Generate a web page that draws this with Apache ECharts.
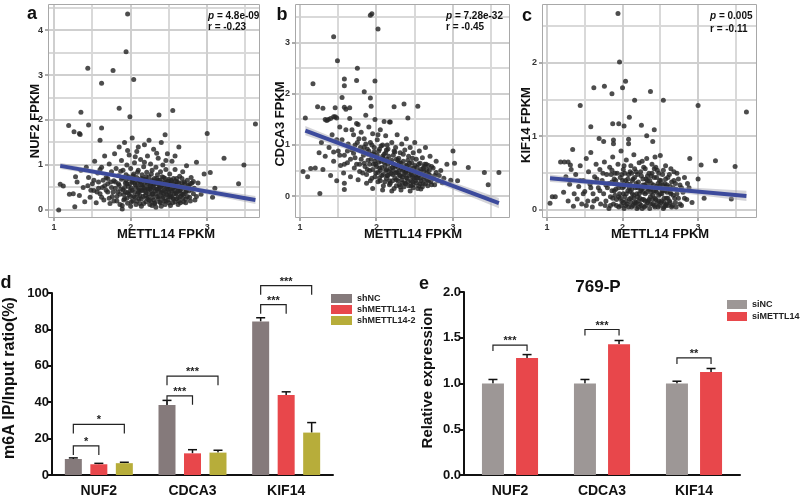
<!DOCTYPE html>
<html><head><meta charset="utf-8">
<script src="https://cdn.jsdelivr.net/npm/echarts@6/dist/echarts.min.js"></script>
<style>html,body{margin:0;padding:0;background:#fff}#c{width:800px;height:503px}</style>
</head><body><div id="c"></div>
<script>
// ---------------- DATA ----------------
const ptsA = [
[1.96,4.36],[1.94,3.52],[1.44,3.15],[1.77,3.10],[2.04,2.90],[1.62,2.82],[1.85,2.26],[1.35,2.17],[2.55,2.21],[2.37,2.11],[1.99,2.07],[1.19,1.88],[1.45,1.89],[1.62,1.82],[3.63,1.91],[3.00,1.70],[1.26,1.74],[1.33,1.70],[1.34,1.68],[2.45,1.67],[3.22,1.15],[2.86,1.06],[3.48,1.00],[3.04,0.83],[3.41,0.58],[1.08,0.57],[1.12,0.53],[1.06,0.0],[1.27,0.07],[1.89,0.02],[3.07,0.28],[2.82,0.63],
[1.20,0.35],[1.25,0.36],[1.28,0.74],[1.30,0.62],[1.33,0.32],[1.35,0.88],[1.38,0.50],[1.40,0.18],[1.42,0.95],[1.45,0.72],[1.47,0.28],[1.50,0.58],[1.52,0.43],[1.53,1.08],[1.55,0.16],[1.57,0.82],[1.58,0.62],[1.60,0.36],[1.60,1.55],[1.62,0.95],[1.63,0.50],[1.65,0.22],[1.66,1.20],[1.68,0.72],[1.70,0.40],[1.70,0.58],[1.72,1.02],[1.73,0.14],[1.75,0.85],[1.76,0.30],[1.78,0.65],[1.79,1.25],[1.80,0.48],[1.81,0.92],[1.82,0.20],[1.84,0.76],[1.85,1.40],[1.85,0.55],[1.86,0.35],[1.88,1.10],[1.88,0.68],[1.89,0.10],[1.90,0.45],[1.90,0.88],[1.92,1.50],[1.92,0.25],[1.93,0.60],[1.94,0.78],[1.95,1.00],[1.96,0.38],[1.96,0.15],[1.97,0.52],[1.98,1.22],[1.98,0.70],[2.00,0.30],[2.00,0.92],[2.01,0.48],[2.02,1.60],[2.02,0.62],[2.03,0.20],[2.04,0.80],[2.05,1.05],[2.05,0.40],[2.06,0.56],[2.07,0.12],[2.08,0.72],[2.08,1.30],[2.09,0.35],[2.10,0.88],[2.10,0.50],[2.11,0.25],[2.12,0.64],[2.13,1.12],[2.13,0.42],[2.14,0.08],[2.15,0.78],[2.15,0.56],[2.16,0.30],[2.17,0.96],[2.18,0.48],[2.18,1.45],[2.19,0.68],[2.20,0.18],[2.20,0.38],[2.21,0.84],[2.22,0.58],[2.22,1.20],[2.23,0.28],[2.24,0.74],[2.25,0.46],[2.25,0.12],[2.26,1.02],[2.27,0.62],[2.28,0.35],[2.28,0.88],[2.29,0.52],[2.30,0.22],[2.30,1.35],[2.31,0.70],[2.32,0.42],[2.33,0.95],[2.33,0.06],[2.34,0.58],[2.35,0.30],[2.35,0.78],[2.36,1.15],[2.37,0.48],[2.38,0.18],[2.38,0.66],[2.39,0.85],[2.40,0.38],[2.40,1.50],[2.41,0.55],[2.42,0.26],[2.42,1.00],[2.43,0.72],[2.44,0.44],[2.45,0.12],[2.45,0.62],[2.46,0.90],[2.47,0.34],[2.48,0.52],[2.48,1.25],[2.49,0.22],[2.50,0.68],[2.50,0.40],[2.51,0.80],[2.52,0.58],[2.53,0.30],[2.54,1.08],[2.55,0.48],[2.55,0.16],[2.56,0.70],[2.57,0.36],[2.58,0.90],[2.59,0.55],[2.60,0.25],[2.61,0.62],[2.62,0.42],[2.63,1.40],[2.64,0.75],[2.65,0.30],[2.66,0.52],[2.68,0.85],[2.69,0.18],[2.70,0.62],[2.72,0.40],[2.73,0.98],[2.75,0.55],[2.77,0.28],[2.79,0.72],[2.80,0.45],[2.84,0.22],[2.88,0.60],[2.92,0.35],[2.96,0.80],[3.10,0.48],
[1.95,0.58],[1.99,0.42],[2.03,0.66],[2.06,0.28],[2.09,0.60],[2.11,0.44],[2.14,0.70],[2.16,0.50],[2.19,0.32],[2.21,0.64],[2.23,0.46],[2.24,0.22],[2.26,0.54],[2.27,0.80],[2.29,0.36],[2.31,0.58],[2.32,0.16],[2.34,0.46],[2.36,0.66],[2.37,0.30],[2.39,0.52],[2.41,0.74],[2.43,0.36],[2.44,0.58],[2.46,0.20],[2.47,0.48],[2.49,0.64],[2.51,0.30],[2.52,0.46],[2.54,0.62],[2.56,0.24],[2.57,0.52],[2.59,0.36],[2.60,0.70],[2.62,0.50],[2.63,0.20],[2.65,0.44],[2.67,0.60],[2.68,0.34],[2.70,0.50],[2.72,0.24],[2.74,0.66],[2.76,0.42],[2.78,0.58],[2.82,0.36],[1.80,0.62],[1.83,0.40],[1.87,0.86],[1.91,0.34],[1.94,0.66],[1.75,0.50],[1.72,0.26],[1.68,0.44],[1.64,0.66],[1.60,0.90],[1.56,0.40],[2.00,0.08],[2.12,0.14],[2.28,0.10],[2.40,0.08],[2.52,0.10],[2.62,0.12],[2.18,1.06],[2.06,1.18],[2.34,1.26],[2.46,1.10],[2.58,1.20],[1.96,1.32],[2.24,1.55],[2.10,1.40],
[1.82,0.30],[1.84,0.58],[1.86,0.12],[1.87,0.46],[1.89,0.72],[1.91,0.22],[1.92,0.50],[1.93,0.40],[1.95,0.26],[1.97,0.74],[1.98,0.34],[1.99,0.58],[2.01,0.18],[2.02,0.44],[2.03,0.76],[2.04,0.30],[2.05,0.60],[2.07,0.50],[2.08,0.20],[2.09,0.84],[2.10,0.40],[2.11,0.66],[2.12,0.32],[2.13,0.56],[2.14,0.24],[2.15,0.44],[2.16,0.68],[2.17,0.14],[2.18,0.58],[2.19,0.42],[2.20,0.74],[2.21,0.26],[2.22,0.48],[2.23,0.64],[2.24,0.36],[2.25,0.56],[2.26,0.20],[2.27,0.44],[2.28,0.66],[2.29,0.28],[2.30,0.50],[2.31,0.14],[2.32,0.62],[2.33,0.36],[2.34,0.70],[2.35,0.46],[2.36,0.24],[2.37,0.56],[2.38,0.40],[2.39,0.16],[2.40,0.62],[2.41,0.44],[2.42,0.30],[2.43,0.54],[2.44,0.20],[2.45,0.70],[2.46,0.40],[2.47,0.60],[2.48,0.30],[2.49,0.46],[2.50,0.16],[2.51,0.56],[2.52,0.34],[2.53,0.66],[2.54,0.42],[2.55,0.26],[2.56,0.58],[2.57,0.44],[2.58,0.18],[2.59,0.64],[2.60,0.38],[2.61,0.50],[2.62,0.28],[2.63,0.60],[2.64,0.44],[2.65,0.16],[2.66,0.36],[2.67,0.70],[2.68,0.26],[2.69,0.48],[2.70,0.36],[2.71,0.58],[2.72,0.16],[2.73,0.44],[2.74,0.30],[2.76,0.52],[2.78,0.20],[2.80,0.60],[2.83,0.48],[2.86,0.30],[1.70,0.70],[1.74,0.62],[1.77,0.40],[1.78,0.20],[1.66,0.54],[1.62,0.28],[1.58,0.48],[1.52,0.66],[1.48,0.44],[1.44,0.54]
];
const ptsB = [
[1.94,3.57],[1.92,3.54],[2.02,3.27],[1.44,3.12],[1.49,2.65],[1.75,2.50],[1.58,2.29],[1.58,2.16],[1.74,2.26],[1.98,2.25],[1.17,2.20],[1.84,2.04],[1.55,1.93],[1.92,1.92],[1.23,1.75],[1.30,1.72],[1.46,1.73],[1.58,1.74],[1.65,1.73],[1.93,1.76],[2.23,1.75],[2.36,1.80],[2.54,1.76],[1.07,1.53],[2.41,1.53],[1.37,1.50],[1.40,1.52],[1.44,1.55],[1.48,1.53],[1.33,1.50],
[3.00,0.88],[3.02,0.64],[3.20,0.56],[3.41,0.46],[3.60,0.46],[3.46,0.22],[2.97,0.31],[3.06,0.30],[1.04,0.48],[1.10,0.38],[1.26,0.05],[1.58,0.25],[1.58,0.13],[1.14,0.54],
[1.20,0.55],[1.25,0.85],[1.28,1.05],[1.30,0.52],[1.33,0.78],[1.35,1.48],[1.38,0.95],[1.40,0.40],[1.42,1.20],[1.44,0.68],[1.46,1.55],[1.48,0.30],[1.50,0.88],[1.52,1.35],[1.53,0.60],[1.55,1.10],[1.57,0.45],[1.58,0.80],[1.60,1.30],[1.62,0.65],[1.63,1.02],[1.65,1.52],[1.66,0.38],[1.68,0.90],[1.70,1.20],[1.71,0.55],[1.72,0.75],[1.74,1.42],[1.75,1.05],[1.76,0.32],[1.78,0.62],[1.79,0.95],[1.80,1.25],[1.82,0.45],[1.83,0.80],[1.84,1.12],[1.85,0.58],[1.86,1.58],[1.87,0.25],[1.88,0.92],[1.89,0.70],[1.90,1.35],[1.91,0.50],[1.92,1.05],[1.93,0.82],[1.94,0.35],[1.95,1.22],[1.96,0.62],[1.97,0.95],[1.98,1.50],[1.99,0.45],[2.00,0.75],[2.01,1.10],[2.02,0.28],[2.03,0.88],[2.04,0.55],[2.05,1.30],[2.06,0.68],[2.07,0.40],[2.08,1.00],[2.09,0.20],[2.10,0.82],[2.11,0.60],[2.12,1.18],[2.13,0.35],[2.14,0.72],[2.15,0.92],[2.16,0.48],[2.17,1.45],[2.18,0.25],[2.19,0.65],[2.20,1.05],[2.21,0.42],[2.22,0.80],[2.23,0.15],[2.24,0.58],[2.25,0.95],[2.26,0.32],[2.27,1.20],[2.28,0.70],[2.29,0.48],[2.30,0.22],[2.31,0.85],[2.32,0.55],[2.33,1.02],[2.34,0.38],[2.35,0.68],[2.36,0.18],[2.37,0.90],[2.38,0.45],[2.39,1.12],[2.40,0.60],[2.41,0.28],[2.42,0.78],[2.43,0.50],[2.44,0.95],[2.45,0.20],[2.46,0.65],[2.47,0.38],[2.48,0.85],[2.49,0.55],[2.50,1.05],[2.51,0.30],[2.52,0.72],[2.53,0.45],[2.54,0.15],[2.55,0.62],[2.56,0.88],[2.57,0.35],[2.58,0.52],[2.60,0.75],[2.61,0.25],[2.62,0.48],[2.64,0.95],[2.65,0.62],[2.66,0.32],[2.68,0.42],[2.70,0.78],[2.72,0.22],[2.74,0.55],[2.76,0.40],[2.78,0.68],[2.80,0.30],[2.84,0.50],[2.88,0.35],[2.92,0.62],
[1.95,0.15],[2.08,0.12],[2.20,0.10],[2.32,0.12],[2.44,0.10],[2.58,0.14],[2.05,0.50],[2.15,0.40],[2.25,0.45],[2.35,0.52],[2.45,0.42],[2.12,0.85],[2.22,0.62],[2.30,0.65],[2.40,0.35],[2.50,0.48],[1.98,0.68],[2.06,0.98],[1.90,0.88],[2.28,0.30],[2.38,0.24],[2.48,0.22],[2.55,0.40],[2.62,0.58],[2.68,0.60],[1.80,0.72],[1.72,1.00],[1.68,1.30],[1.94,1.00],[2.02,1.20],[2.10,1.46],[2.18,1.45],[1.76,1.40],[1.60,1.70],
[2.00,0.58],[2.04,0.36],[2.09,0.74],[2.13,0.52],[2.17,0.30],[2.21,0.56],[2.26,0.72],[2.31,0.40],[2.34,0.26],[2.39,0.48],[2.43,0.64],[2.47,0.28],[2.52,0.36],[2.57,0.24],[2.63,0.38],[1.88,0.52],[1.84,0.96],[1.96,0.82],[2.14,1.00],[2.24,0.86],
[1.82,0.88],[1.84,0.64],[1.86,1.02],[1.87,0.42],[1.89,0.82],[1.91,0.62],[1.92,0.30],[1.93,0.72],[1.95,0.52],[1.97,0.86],[1.98,0.38],[1.99,0.62],[2.01,0.80],[2.02,0.46],[2.03,0.66],[2.04,0.92],[2.05,0.30],[2.07,0.56],[2.08,0.78],[2.09,0.42],[2.10,0.66],[2.11,0.28],[2.12,0.50],[2.13,0.90],[2.14,0.40],[2.15,0.62],[2.16,0.78],[2.17,0.22],[2.18,0.54],[2.19,0.44],[2.20,0.70],[2.21,0.30],[2.22,0.50],[2.23,0.88],[2.24,0.36],[2.25,0.60],[2.26,0.20],[2.27,0.46],[2.28,0.56],[2.29,0.74],[2.30,0.40],[2.31,0.18],[2.32,0.64],[2.33,0.32],[2.34,0.50],[2.35,0.82],[2.36,0.42],[2.37,0.26],[2.38,0.60],[2.39,0.36],[2.40,0.50],[2.41,0.70],[2.42,0.20],[2.43,0.40],[2.44,0.56],[2.45,0.30],[2.46,0.46],[2.47,0.74],[2.48,0.16],[2.49,0.36],[2.50,0.60],[2.51,0.42],[2.52,0.26],[2.53,0.56],[2.54,0.36],[2.55,0.20],[2.56,0.48],[2.57,0.64],[2.58,0.30],[2.59,0.42],[2.60,0.18],[2.61,0.54],[2.62,0.34],[2.63,0.62],[2.64,0.24],[2.65,0.44],[2.66,0.52],[2.67,0.20],[2.68,0.30],[2.69,0.50],[2.70,0.40],[2.71,0.28],[2.72,0.58],[2.74,0.34],[2.76,0.22],[2.78,0.46],[2.82,0.40],[2.86,0.26],[1.70,0.84],[1.74,0.62],[1.77,1.12],[1.78,0.48],[1.66,0.72],[1.62,0.88],[1.58,0.62],[1.52,0.80],[1.48,1.10],[1.44,0.86]
];
const ptsC = [
[1.94,2.67],[1.96,2.01],[2.04,1.75],[1.62,1.66],[1.76,1.68],[2.00,1.66],[1.86,1.58],[2.37,1.61],[2.16,1.49],[2.54,1.49],[1.44,1.42],[3.00,1.42],[3.64,1.33],[2.09,1.26],[1.58,1.13],[1.87,1.17],[1.95,1.17],[2.02,1.14],[2.25,1.15],[2.42,1.09],[2.32,1.01],[1.69,0.97],[1.75,0.93],[1.88,0.95],[1.88,0.90],[2.08,0.96],[2.08,0.90],[2.40,0.93],[1.34,0.82],[2.89,0.70],[3.23,0.67],[3.04,0.61],[3.49,0.59],[3.00,0.42],[3.08,0.16],[3.44,0.15],[1.04,0.09],[1.07,0.18],[1.11,0.18],
[1.18,0.65],[1.23,0.65],[1.28,0.65],[1.31,0.61],[1.22,0.24],[1.25,0.45],[1.28,0.12],[1.30,0.35],[1.32,0.55],[1.35,0.05],[1.36,0.22],[1.38,0.48],[1.40,0.15],[1.42,0.32],[1.44,0.60],[1.46,0.08],[1.48,0.40],[1.50,0.25],[1.52,0.70],[1.54,0.12],[1.55,0.52],[1.57,0.35],[1.58,0.78],[1.60,0.04],[1.61,0.22],[1.63,0.45],[1.65,0.62],[1.66,0.15],[1.68,0.30],[1.70,0.55],[1.71,0.08],[1.73,0.40],[1.75,0.22],[1.76,0.65],[1.78,0.12],[1.79,0.48],[1.80,0.30],[1.82,0.02],[1.83,0.58],[1.84,0.18],[1.86,0.38],[1.87,0.72],[1.88,0.08],[1.89,0.26],[1.90,0.50],[1.92,0.14],[1.93,0.35],[1.94,0.62],[1.95,0.04],[1.96,0.22],[1.97,0.44],[1.98,0.80],[1.99,0.12],[2.00,0.30],[2.01,0.55],[2.02,0.02],[2.03,0.18],[2.04,0.40],[2.05,0.68],[2.06,0.08],[2.07,0.26],[2.08,0.48],[2.09,0.15],[2.10,0.35],[2.11,0.60],[2.12,0.04],[2.13,0.22],[2.14,0.42],[2.15,0.75],[2.16,0.10],[2.17,0.30],[2.18,0.52],[2.19,0.02],[2.20,0.18],[2.21,0.38],[2.22,0.64],[2.23,0.08],[2.24,0.26],[2.25,0.46],[2.26,0.14],[2.27,0.34],[2.28,0.58],[2.29,0.04],[2.30,0.22],[2.31,0.42],[2.32,0.70],[2.33,0.10],[2.34,0.28],[2.35,0.50],[2.36,0.02],[2.37,0.18],[2.38,0.36],[2.39,0.62],[2.40,0.08],[2.41,0.26],[2.42,0.44],[2.43,0.72],[2.44,0.14],[2.45,0.32],[2.46,0.54],[2.47,0.04],[2.48,0.20],[2.49,0.40],[2.50,0.74],[2.51,0.10],[2.52,0.28],[2.53,0.48],[2.54,0.02],[2.55,0.16],[2.56,0.36],[2.57,0.60],[2.58,0.08],[2.59,0.24],[2.60,0.44],[2.62,0.12],[2.63,0.32],[2.64,0.56],[2.65,0.04],[2.67,0.20],[2.68,0.40],[2.70,0.10],[2.71,0.28],[2.72,0.50],[2.74,0.16],[2.76,0.34],[2.78,0.06],[2.80,0.24],[2.82,0.44],[2.85,0.14],[2.88,0.30],[2.92,0.10],
[2.05,0.12],[2.15,0.20],[2.25,0.06],[2.35,0.14],[2.45,0.24],[2.55,0.10],[2.00,0.40],[2.10,0.25],[2.20,0.30],[2.30,0.12],[2.40,0.20],[2.50,0.34],[2.60,0.16],[1.95,0.30],[2.12,0.50],[2.22,0.22],[2.32,0.36],[2.42,0.06],[2.52,0.22],[1.85,0.48],[1.90,0.20],[2.18,0.10],[2.28,0.30],[2.38,0.46],[2.48,0.12],[2.58,0.32],[2.02,0.60],[2.26,0.66],[2.44,0.58],
[2.01,0.22],[2.06,0.36],[2.11,0.16],[2.16,0.44],[2.21,0.12],[2.27,0.24],[2.33,0.40],[2.37,0.28],[2.43,0.16],[2.47,0.36],[2.53,0.26],[2.57,0.06],[2.63,0.24],[1.97,0.16],[1.91,0.40],[1.86,0.26],
[1.82,0.36],[1.84,0.06],[1.86,0.54],[1.87,0.16],[1.89,0.42],[1.91,0.28],[1.92,0.06],[1.93,0.50],[1.95,0.18],[1.97,0.34],[1.98,0.06],[1.99,0.48],[2.01,0.10],[2.02,0.32],[2.03,0.50],[2.04,0.06],[2.05,0.22],[2.07,0.42],[2.08,0.04],[2.09,0.30],[2.10,0.52],[2.11,0.10],[2.12,0.28],[2.13,0.40],[2.14,0.06],[2.15,0.16],[2.16,0.56],[2.17,0.08],[2.18,0.36],[2.19,0.22],[2.20,0.48],[2.21,0.04],[2.22,0.32],[2.23,0.16],[2.24,0.52],[2.25,0.28],[2.26,0.02],[2.27,0.42],[2.28,0.14],[2.29,0.34],[2.30,0.56],[2.31,0.06],[2.32,0.24],[2.33,0.46],[2.34,0.12],[2.35,0.30],[2.36,0.40],[2.37,0.08],[2.38,0.24],[2.39,0.50],[2.40,0.14],[2.41,0.34],[2.42,0.56],[2.43,0.04],[2.44,0.26],[2.45,0.44],[2.46,0.10],[2.47,0.30],[2.48,0.50],[2.49,0.06],[2.50,0.22],[2.51,0.40],[2.52,0.12],[2.53,0.34],[2.54,0.54],[2.55,0.04],[2.56,0.26],[2.57,0.42],[2.58,0.16],[2.59,0.34],[2.60,0.06],[2.61,0.28],[2.62,0.48],[2.63,0.10],[2.64,0.22],[2.65,0.38],[2.66,0.06],[2.67,0.30],[2.68,0.52],[2.69,0.16],[2.70,0.36],[2.71,0.04],[2.72,0.22],[2.74,0.42],[2.76,0.08],[2.78,0.30],[2.82,0.16],[2.86,0.36],[1.70,0.26],[1.74,0.50],[1.77,0.06],[1.78,0.34],[1.66,0.42],[1.62,0.12],[1.58,0.30],[1.52,0.06],[1.48,0.22],[1.44,0.40]
];
const fitA = [[1.08,0.98],[3.63,0.22]];
const fitB = [[1.07,1.28],[3.60,-0.14]];
const fitC = [[1.04,0.43],[3.64,0.19]];
const bandA = [[1.08,0.91,1.05],[2.20,0.615,0.675],[3.63,0.13,0.31]];
const bandB = [[1.07,1.19,1.37],[2.20,0.615,0.68],[3.60,-0.24,-0.04]];
const bandC = [[1.04,0.38,0.48],[2.20,0.30,0.345],[3.64,0.12,0.26]];
// tick values (major labelled, minor gridlines only)
const xMajor = [1,2,3];
const xMinor = [1.5,2.5,3.5];
const yMajorA = [0,1,2,3,4], yMinorA = [0.5,1.5,2.5,3.5,4.5];
const yMajorB = [0,1,2,3],   yMinorB = [0.5,1.5,2.5,3.5];
const yMajorC = [0,1,2],     yMinorC = [0.5,1.5,2.5];
const statP = ['4.8e-09','7.28e-32','0.005'];
const statR = ['-0.23','-0.45','-0.11'];
const yNames = ['NUF2 FPKM','CDCA3 FPKM','KIF14 FPKM'];
const xName = 'METTL14 FPKM';

const genes = ['NUF2','CDCA3','KIF14'];
const dGroups = ['shNC','shMETTL14-1','shMETTL14-2'];
const shNCmean = [8.8,38.4,84.4];
const shNCerr = [0.6,2.6,2.0];
const sh1mean = [5.9,11.9,43.9];
const sh1err = [0.5,2.0,1.8];
const sh2mean = [6.5,12.3,23.3];
const sh2err = [0.5,1.3,5.5];
// brackets: [gene index, bar from, bar to, height, label]
const dBrackets = [[0,0,1,16,'*'],[0,0,2,27.8,'*'],[1,0,1,43.5,'***'],[1,0,2,54.3,'***'],[2,0,1,93.6,'***'],[2,0,2,104,'***']];

const eGroups = ['siNC','siMETTL14'];
const siNCmean = [1.0,1.0,1.0];
const siNCerr = [0.044,0.044,0.025];
const siMmean = [1.28,1.43,1.125];
const siMerr = [0.036,0.04,0.039];
const eBrackets = [[0,0,1,1.42,'***'],[1,0,1,1.59,'***'],[2,0,1,1.28,'**']];
const eTitle = '769-P';

// ---------------- STYLE ----------------
const FONT = '"Liberation Sans", Arial, sans-serif';
const dCols = ['#857a7b','#e8474b','#b7ad3a'];
const eCols = ['#9d9796','#e8474b'];
const D_BW = 17, D_GAP = 0.5;
const E_BW = 22, E_GAP = 0.55;

function scatterAxes(gi, xmin, xmax, ymin, ymax, ySplit){
  const lab = {formatter: v => Math.abs(v - Math.round(v)) < 1e-6 ? String(Math.round(v)) : '',
               fontSize: 9, fontWeight: 'bold', color: '#333', fontFamily: FONT};
  return {
    x: {type: 'value', gridIndex: gi, min: xmin, max: xmax, splitNumber: 6,
        axisLine: {show: false}, axisTick: {show: false},
        axisLabel: Object.assign({margin: 5}, lab), splitLine: {show: false}},
    y: {type: 'value', gridIndex: gi, min: ymin, max: ymax, splitNumber: ySplit,
        axisLine: {show: false}, axisTick: {show: false},
        axisLabel: Object.assign({margin: 5}, lab), splitLine: {show: false}}
  };
}
const axA = scatterAxes(0, 0.92, 3.69, -0.18, 4.58, 9);
const axB = scatterAxes(1, 0.935, 3.745, -0.43, 3.76, 8);
const axC = scatterAxes(2, 0.934, 3.78, -0.11, 2.8, 6);

function barAxes(gi, ymax, interval, fmt){
  return {
    x: {type: 'category', gridIndex: gi, data: genes,
        axisLine: {lineStyle: {color: '#111', width: 2}},
        axisTick: {alignWithLabel: true, length: 5, lineStyle: {color: '#111', width: 2}},
        axisLabel: {fontSize: 14, fontWeight: 'bold', color: '#111', fontFamily: FONT, margin: 9}},
    y: {type: 'value', gridIndex: gi, min: 0, max: ymax, interval: interval,
        axisLine: {show: true, lineStyle: {color: '#111', width: 2}},
        axisTick: {show: true, length: 4, lineStyle: {color: '#111', width: 2}},
        axisLabel: {fontSize: 13, fontWeight: 'bold', color: '#111', fontFamily: FONT, margin: 3, formatter: fmt},
        splitLine: {show: false}}
  };
}
const axD = barAxes(3, 100, 20, v => String(v));
const axE = barAxes(4, 2, 0.5, v => v.toFixed(1));

// panel background: gridlines + frame + ticks, drawn through the axes' scales (pixel-aligned 2px lines)
function frameSeries(gi, xMaj, xMin, yMaj, yMin){
  return {type: 'custom', xAxisIndex: gi, yAxisIndex: gi, coordinateSystem: 'cartesian2d', silent: true, z: 1,
    clip: false, data: [[xMaj[0], yMaj[0]]],
    renderItem: function(params, api){
      const cs = params.coordSys;
      const kids = [];
      const vline = (v, col) => { const px = Math.round(api.coord([v, yMaj[0]])[0]);
        kids.push({type: 'rect', shape: {x: px - 1, y: cs.y, width: 2, height: cs.height}, style: {fill: col}}); };
      const hline = (v, col) => { const py = Math.round(api.coord([xMaj[0], v])[1]);
        kids.push({type: 'rect', shape: {x: cs.x, y: py - 1, width: cs.width, height: 2}, style: {fill: col}}); };
      xMin.forEach(v => vline(v, '#d9d9d9'));
      yMin.forEach(v => hline(v, '#d9d9d9'));
      xMaj.forEach(v => vline(v, '#cfcfcf'));
      yMaj.forEach(v => hline(v, '#cfcfcf'));
      xMaj.forEach(v => { const px = Math.round(api.coord([v, yMaj[0]])[0]);
        kids.push({type: 'rect', shape: {x: px - 0.5, y: cs.y + cs.height, width: 1, height: 3}, style: {fill: '#555'}}); });
      yMaj.forEach(v => { const py = Math.round(api.coord([xMaj[0], v])[1]);
        kids.push({type: 'rect', shape: {x: cs.x - 3, y: py - 0.5, width: 3, height: 1}, style: {fill: '#555'}}); });
      kids.push({type: 'rect', shape: {x: cs.x + 0.5, y: cs.y + 0.5, width: cs.width - 1, height: cs.height - 1},
        style: {fill: 'none', stroke: '#a8a8a8', lineWidth: 1}});
      return {type: 'group', children: kids};
    }};
}

function scatterSeries(gi, pts, fit, band, yMaj, yMin){
  return [
    frameSeries(gi, xMajor, xMinor, yMaj, yMin),
    {type: 'scatter', xAxisIndex: gi, yAxisIndex: gi, data: pts, symbolSize: 5,
     itemStyle: {color: '#262626', opacity: 0.82}, silent: true, z: 3},
    {type: 'custom', xAxisIndex: gi, yAxisIndex: gi, coordinateSystem: 'cartesian2d',
     data: band.map(b => [b[0], b[1]]), silent: true, z: 4,
     renderItem: function(params, api){
       if (params.dataIndex !== 0) return null;
       const up = band.map(b => api.coord([b[0], b[2]]));
       const lo = band.map(b => api.coord([b[0], b[1]])).reverse();
       return {type: 'polygon', shape: {points: up.concat(lo)},
               style: {fill: 'rgba(160,160,170,0.45)'}};
     }},
    {type: 'line', xAxisIndex: gi, yAxisIndex: gi, data: fit, showSymbol: false, silent: true, z: 5,
     lineStyle: {color: '#3c4a9c', width: 4}}
  ];
}

function errSeries(gi, means, errs, k, n, bw, gap){
  return {type: 'custom', xAxisIndex: gi, yAxisIndex: gi, coordinateSystem: 'cartesian2d', z: 1,
    encode: {x: 0, y: 1}, silent: true,
    data: means.map((m, i) => [i, m + errs[i]]),
    renderItem: function(params, api){
      const i = params.dataIndex;
      const off = (k - (n - 1) / 2) * bw * (1 + gap);
      const p0 = api.coord([i, means[i]]);
      const p1 = api.coord([i, means[i] + errs[i]]);
      const x = p0[0] + off;
      const st = {stroke: '#111', lineWidth: 1.5};
      return {type: 'group', children: [
        {type: 'line', shape: {x1: x, y1: p0[1], x2: x, y2: p1[1]}, style: st},
        {type: 'line', shape: {x1: x - 4.5, y1: p1[1], x2: x + 4.5, y2: p1[1]}, style: st}
      ]};
    }};
}
function bracketSeries(gi, brs, n, bw, gap, drop, fs){
  return {type: 'custom', xAxisIndex: gi, yAxisIndex: gi, coordinateSystem: 'cartesian2d', clip: false,
    encode: {x: 0, y: 1}, silent: true, z: 5,
    data: brs.map(b => [b[0], b[3]]),
    renderItem: function(params, api){
      const b = brs[params.dataIndex];
      const c = api.coord([b[0], b[3]]);
      const step = bw * (1 + gap);
      const xa = c[0] + (b[1] - (n - 1) / 2) * step;
      const xb = c[0] + (b[2] - (n - 1) / 2) * step;
      const y = c[1];
      const st = {stroke: '#222', lineWidth: 1.2, fill: null};
      return {type: 'group', children: [
        {type: 'polyline', shape: {points: [[xa, y + drop], [xa, y], [xb, y], [xb, y + drop]]}, style: st},
        {type: 'text', style: {text: b[4], x: (xa + xb) / 2, y: y - 4, align: 'center', verticalAlign: 'middle',
          textAlign: 'center', textVerticalAlign: 'middle',
          font: 'bold ' + fs + 'px ' + FONT, fill: '#222'}}
      ]};
    }};
}

const series = []
  .concat(scatterSeries(0, ptsA, fitA, bandA, yMajorA, yMinorA))
  .concat(scatterSeries(1, ptsB, fitB, bandB, yMajorB, yMinorB))
  .concat(scatterSeries(2, ptsC, fitC, bandC, yMajorC, yMinorC));
const dMeans = [shNCmean, sh1mean, sh2mean], dErrs = [shNCerr, sh1err, sh2err];
dGroups.forEach((g, k) => {
  series.push({type: 'bar', name: g, xAxisIndex: 3, yAxisIndex: 3, data: dMeans[k],
    barWidth: D_BW, barGap: (D_GAP * 100) + '%', itemStyle: {color: dCols[k]}, z: 2});
  series.push(errSeries(3, dMeans[k], dErrs[k], k, 3, D_BW, D_GAP));
});
series.push(bracketSeries(3, dBrackets, 3, D_BW, D_GAP, 9, 11));
const eMeans = [siNCmean, siMmean], eErrs = [siNCerr, siMerr];
eGroups.forEach((g, k) => {
  series.push({type: 'bar', name: g, xAxisIndex: 4, yAxisIndex: 4, data: eMeans[k],
    barWidth: E_BW, barGap: (E_GAP * 100) + '%', itemStyle: {color: eCols[k]}, z: 2});
  series.push(errSeries(4, eMeans[k], eErrs[k], k, 2, E_BW, E_GAP));
});
series.push(bracketSeries(4, eBrackets, 2, E_BW, E_GAP, 6, 11));

function txt(x, y, s, size, opt){
  opt = opt || {};
  return {type: 'text', x: x, y: y, rotation: opt.rot || 0, silent: true, z: 100,
    style: Object.assign({text: s, font: (opt.italic ? 'italic ' : '') + 'bold ' + size + 'px ' + FONT,
      fill: opt.fill || '#111', textAlign: opt.align || 'center', textVerticalAlign: 'middle'}, opt.style || {})};
}
function statText(x, y, p){
  return {type: 'text', x: x, y: y, silent: true, z: 100,
    style: {text: '{i|p} = ' + p, font: 'bold 10px ' + FONT, fill: '#111', textAlign: 'left', textVerticalAlign: 'middle',
      rich: {i: {fontStyle: 'italic', fontWeight: 'bold', fontSize: 10, fontFamily: FONT, fill: '#111'}}}};
}
const graphic = [
  txt(32, 14, 'a', 18), txt(282, 15, 'b', 18), txt(527, 16, 'c', 18), txt(6, 283, 'd', 18), txt(424, 284, 'e', 18),
  statText(208, 16, statP[0]), txt(208, 27, 'r = ' + statR[0], 10, {align: 'left'}),
  statText(446, 16, statP[1]), txt(446, 27, 'r = ' + statR[1], 10, {align: 'left'}),
  statText(710, 16, statP[2]), txt(710, 29, 'r = ' + statR[2], 10, {align: 'left'}),
  txt(166, 234, xName, 13), txt(413, 234, xName, 13), txt(660, 234, xName, 13),
  txt(35, 121, yNames[0], 13, {rot: Math.PI / 2}), txt(280, 124, yNames[1], 13, {rot: Math.PI / 2}),
  txt(526, 125, yNames[2], 13, {rot: Math.PI / 2}),
  txt(10, 378, 'm6A IP/Input ratio(%)', 16, {rot: Math.PI / 2}),
  txt(428, 378, 'Relative expression', 15, {rot: Math.PI / 2}),
  txt(598, 287, eTitle, 17)
];

const chart = echarts.init(document.getElementById('c'), null, {renderer: 'canvas'});
chart.setOption({
  animation: false,
  backgroundColor: '#fff',
  grid: [
    {left: 48, top: 4, width: 212, height: 214, show: false},
    {left: 295, top: 4, width: 215, height: 214, show: false},
    {left: 542, top: 4, width: 215, height: 214, show: false},
    {left: 52, top: 293, width: 281, height: 182},
    {left: 464, top: 292, width: 276, height: 183}
  ],
  xAxis: [axA.x, axB.x, axC.x, axD.x, axE.x],
  yAxis: [axA.y, axB.y, axC.y, axD.y, axE.y],
  legend: [
    {data: dGroups, orient: 'vertical', left: 326, top: 289, itemWidth: 21, itemHeight: 9, itemGap: 2, icon: 'rect',
     selectedMode: false, textStyle: {fontSize: 9, fontWeight: 'bold', color: '#222', fontFamily: FONT}},
    {data: eGroups, orient: 'vertical', left: 722, top: 295, itemWidth: 20, itemHeight: 9, itemGap: 3, icon: 'rect',
     selectedMode: false, textStyle: {fontSize: 9, fontWeight: 'bold', color: '#222', fontFamily: FONT}}
  ],
  series: series,
  graphic: graphic
});
</script></body></html>
